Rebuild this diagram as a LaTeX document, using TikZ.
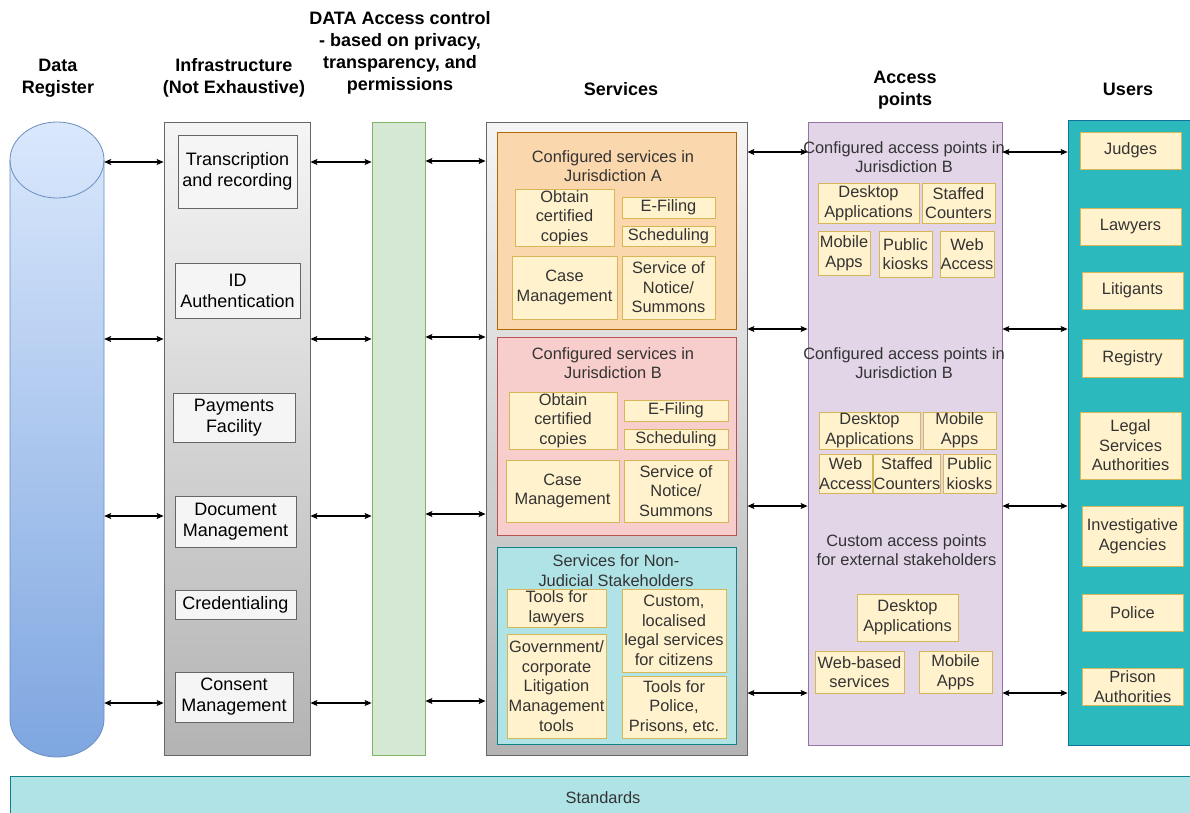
\documentclass[tikz,border=0pt]{standalone}
\usepackage{fontspec}
\setmainfont{Liberation Sans}
\usetikzlibrary{arrows.meta}
\definecolor{cylT}{HTML}{DAE8FC}
\definecolor{cylB}{HTML}{7EA6E0}
\definecolor{cylD}{HTML}{6C8EBF}
\definecolor{grT}{HTML}{F5F5F5}
\definecolor{grB}{HTML}{B3B3B3}
\definecolor{grD}{HTML}{666666}
\definecolor{grnF}{HTML}{D5E8D4}
\definecolor{grnD}{HTML}{82B366}
\definecolor{purF}{HTML}{E1D5E7}
\definecolor{purD}{HTML}{9673A6}
\definecolor{usrF}{HTML}{2BB9BD}
\definecolor{usrD}{HTML}{10739E}
\definecolor{stdF}{HTML}{B0E3E6}
\definecolor{stdD}{HTML}{0E8088}
\definecolor{orF}{HTML}{FAD7AC}
\definecolor{orD}{HTML}{B46504}
\definecolor{rdF}{HTML}{F8CECC}
\definecolor{rdD}{HTML}{B85450}
\definecolor{subF}{HTML}{FFF2CC}
\definecolor{subD}{HTML}{D6B656}
\definecolor{txt}{HTML}{333333}
\newcommand\fsz{\fontsize{16.4}{19.6}\selectfont}
\newcommand\fin{\fontsize{18}{21}\selectfont}
\newcommand\fhd{\fontsize{18}{22}\selectfont\bfseries}
\begin{document}
\begin{tikzpicture}[x=1pt,y=-1pt,
  box/.style={draw, inner sep=0pt, align=center, line width=0.8pt},
  sub/.style={box, fill=subF, draw=subD, text=txt, font=\fsz},
  inf/.style={box, fill=grT, draw=grD, font=\fin, text=black},
  hdr/.style={align=center, font=\fhd, inner sep=0pt},
  ttl/.style={align=center, font=\fsz, text=txt, inner sep=0pt},
  arr/.style={{Stealth[length=7pt,width=6pt,inset=1.5pt]}-{Stealth[length=7pt,width=6pt,inset=1.5pt]}, line width=1.1pt, black}]
\useasboundingbox (0,0) rectangle (1190,812);
\fill[white] (0,0) rectangle (1190,812);

% headers
\node[hdr] (h1) at (58,78) {Data\\Register};
\node[hdr] (h2) at (234,78) {Infrastructure\\(Not Exhaustive)};
\node[hdr] (h3) at (400,53) {DATA Access control\\- based on privacy,\\transparency, and\\permissions};
\node[hdr] (h4) at (621,89) {Services};
\node[hdr] (h5) at (905,90) {Access\\points};
\node[hdr] (h6) at (1128,89) {Users};

% cylinder
\path[top color=cylT, bottom color=cylB, draw=cylD, line width=0.8pt]
  (10,160) -- (10,719) arc[start angle=180,end angle=360,x radius=47pt,y radius=38pt]
  -- (104,160) arc[start angle=0,end angle=180,x radius=47pt,y radius=38pt] -- cycle;
\draw[cylD, line width=0.8pt] (10,160) arc[start angle=180,end angle=360,x radius=47pt,y radius=38pt];
\node[inner sep=0pt, minimum width=94, minimum height=635] (cyl) at (57,439.5) {};

% columns
\node[box, top color=grT, bottom color=grB, draw=grD, minimum width=146, minimum height=633] (infra) at (237,438.5) {};
\node[box, fill=grnF, draw=grnD, minimum width=53, minimum height=633] (dac) at (398.5,438.5) {};
\node[box, top color=grT, bottom color=grB, draw=grD, minimum width=261, minimum height=633] (serv) at (616.5,438.5) {};
\node[box, fill=purF, draw=purD, minimum width=194, minimum height=623] (acc) at (905,433.5) {};
\node[box, fill=usrF, draw=usrD, minimum width=128, minimum height=625] (users) at (1132,432.5) {};
\node[box, fill=stdF, draw=stdD, minimum width=1186, minimum height=43, font=\fsz, text=txt] (std) at (603,797.5) {Standards};

% infrastructure items
\node[inf, minimum width=119, minimum height=73] (tr) at (237.5,171.5) {Transcription\\and recording};
\node[inf, minimum width=125, minimum height=55] (idA) at (237.5,290.5) {ID\\Authentication};
\node[inf, minimum width=122, minimum height=49] (pay) at (234,417.5) {Payments\\Facility};
\node[inf, minimum width=121, minimum height=51] (doc) at (235.5,521.5) {Document\\Management};
\node[inf, minimum width=121, minimum height=29] (cred) at (235.5,604.5) {Credentialing};
\node[inf, minimum width=118, minimum height=50] (cons) at (234,697) {Consent\\Management};

% services: jurisdiction A
\node[box, fill=orF, draw=orD, minimum width=239, minimum height=197] (ja) at (616.5,230.5) {};
\node[ttl] (jat) at (613,166) {Configured services in\\Jurisdiction A};
\node[sub, minimum width=99, minimum height=57] (a1) at (564.5,217.5) {Obtain\\certified\\copies};
\node[sub, minimum width=93, minimum height=21] (a2) at (668.5,207.5) {E-Filing};
\node[sub, minimum width=93, minimum height=20] (a3) at (668.5,236) {Scheduling};
\node[sub, minimum width=105, minimum height=63] (a4) at (564.5,287.5) {Case\\Management};
\node[sub, minimum width=93, minimum height=63] (a5) at (668.5,287.5) {Service of\\Notice/\\Summons};

% services: jurisdiction B
\node[box, fill=rdF, draw=rdD, minimum width=239, minimum height=198] (jb) at (616.5,436) {};
\node[ttl] (jbt) at (613,363) {Configured services in\\Jurisdiction B};
\node[sub, minimum width=108, minimum height=57] (b1) at (563,420.5) {Obtain\\certified\\copies};
\node[sub, minimum width=104, minimum height=21] (b2) at (676,410.5) {E-Filing};
\node[sub, minimum width=104, minimum height=20] (b3) at (676,439) {Scheduling};
\node[sub, minimum width=113, minimum height=62] (b4) at (562.5,491) {Case\\Management};
\node[sub, minimum width=104, minimum height=62] (b5) at (676,491) {Service of\\Notice/\\Summons};

% services: non-judicial
\node[box, fill=stdF, draw=stdD, minimum width=239, minimum height=197] (nj) at (616.5,645.5) {};
\node[ttl] (njt) at (616,570.5) {Services for Non-\\Judicial Stakeholders};
\node[sub, minimum width=99, minimum height=38] (n1) at (556.5,608) {Tools for\\lawyers};
\node[sub, minimum width=99, minimum height=104] (n2) at (556.5,686) {Government/\\corporate\\Litigation\\Management\\tools};
\node[sub, minimum width=104, minimum height=83] (n3) at (674,630.5) {Custom,\\localised\\legal services\\for citizens};
\node[sub, minimum width=104, minimum height=62] (n4) at (674,707) {Tools for\\Police,\\Prisons, etc.};

% access points
\node[ttl] (t1) at (904,157) {Configured access points in\\Jurisdiction B};
\node[sub, minimum width=101, minimum height=40] (p1) at (868.5,203) {Desktop\\Applications};
\node[sub, minimum width=73, minimum height=40] (p2) at (958.5,203) {Staffed\\Counters};
\node[sub, minimum width=52, minimum height=44] (p3) at (844,253) {Mobile\\Apps};
\node[sub, minimum width=53, minimum height=46] (p4) at (905.5,254) {Public\\kiosks};
\node[sub, minimum width=54, minimum height=46] (p5) at (967,254) {Web\\Access};

\node[ttl] (t2) at (904,363) {Configured access points in\\Jurisdiction B};
\node[sub, minimum width=101, minimum height=37] (q1) at (869.5,430.5) {Desktop\\Applications};
\node[sub, minimum width=73, minimum height=37] (q2) at (959.5,430.5) {Mobile\\Apps};
\node[sub, minimum width=53, minimum height=39] (q3) at (845.5,473.5) {Web\\Access};
\node[sub, minimum width=64, minimum height=39] (q4) at (907,473.5) {Staffed\\Counters};
\node[sub, minimum width=53, minimum height=39] (q5) at (969.5,473.5) {Public\\kiosks};

\node[ttl] (t3) at (906.5,550) {Custom access points\\for external stakeholders};
\node[sub, minimum width=101, minimum height=47] (r1) at (907.5,617.5) {Desktop\\Applications};
\node[sub, minimum width=89, minimum height=42] (r2) at (859.5,672) {Web-based\\services};
\node[sub, minimum width=73, minimum height=42] (r3) at (955.5,672) {Mobile\\Apps};

% users
\node[sub, minimum width=101, minimum height=37] (u1) at (1130.5,150.5) {Judges};
\node[sub, minimum width=101, minimum height=37] (u2) at (1130.5,226.5) {Lawyers};
\node[sub, minimum width=101, minimum height=37] (u3) at (1132.5,290.5) {Litigants};
\node[sub, minimum width=101, minimum height=38] (u4) at (1132.5,358) {Registry};
\node[sub, minimum width=101, minimum height=67] (u5) at (1130.5,445.5) {Legal\\Services\\Authorities};
\node[sub, minimum width=101, minimum height=60] (u6) at (1132.5,536) {Investigative\\Agencies};
\node[sub, minimum width=101, minimum height=37] (u7) at (1132.5,612.5) {Police};
\node[sub, minimum width=101, minimum height=37] (u8) at (1132.5,686.5) {Prison\\Authorities};

% arrows
\foreach \yy in {162,339,516,703}{
  \draw[arr] (cyl.east |- 0,\yy) -- (infra.west |- 0,\yy);
  \draw[arr] (infra.east |- 0,\yy) -- (dac.west |- 0,\yy);
}
\foreach \yy in {161,337,514,701}{
  \draw[arr] (dac.east |- 0,\yy) -- (serv.west |- 0,\yy);
}
\foreach \yy in {152,329,506,693}{
  \draw[arr] (serv.east |- 0,\yy) -- (acc.west |- 0,\yy);
  \draw[arr] (acc.east |- 0,\yy) -- (users.west |- 0,\yy);
}
\end{tikzpicture}
\end{document}
